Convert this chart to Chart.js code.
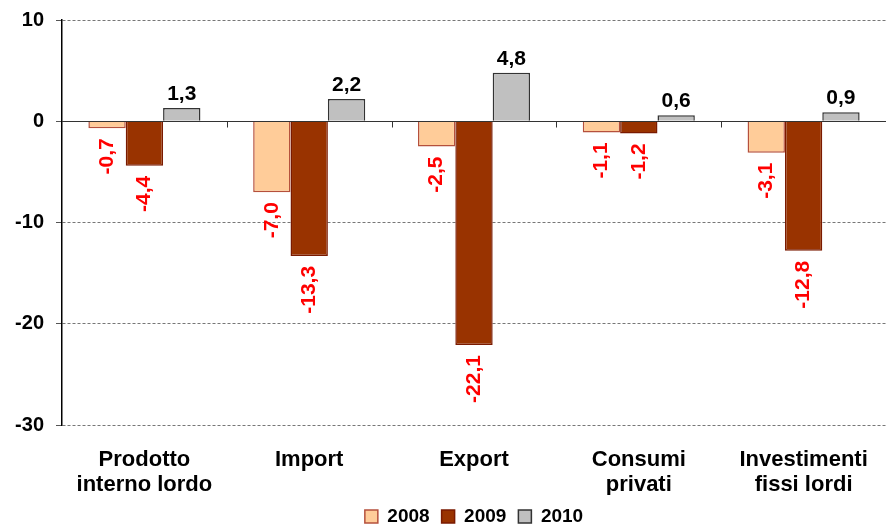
<!DOCTYPE html>
<html>
<head>
<meta charset="utf-8">
<script src="https://cdn.jsdelivr.net/npm/chart.js@4"></script>
<style>
  html, body { margin: 0; padding: 0; background: #fff; }
  #wrap { width: 886px; height: 524px; }
</style>
</head>
<body>
<div id="wrap"><canvas id="myChart" width="886" height="524"></canvas></div>
<script>
"use strict";

const categories = [
  ['Prodotto', 'interno lordo'],
  'Import',
  'Export',
  ['Consumi', 'privati'],
  ['Investimenti', 'fissi lordi']
];
const values2008 = [-0.7, -7.0, -2.5, -1.1, -3.1];
const values2009 = [-4.4, -13.3, -22.1, -1.2, -12.8];
const values2010 = [1.3, 2.2, 4.8, 0.6, 0.9];
const yTicks = [10, 0, -10, -20, -30];

const FONT = '"Liberation Sans", Arial, sans-serif';

const fmt = v => v.toFixed(1).replace('.', ',');

// labels: negatives red and rotated under the bar, positives black above
const valueLabels = {
  id: 'valueLabels',
  afterDatasetsDraw(chart) {
    const ctx = chart.ctx;
    ctx.save();
    ctx.font = 'bold 21px ' + FONT;
    chart.data.datasets.forEach((ds, i) => {
      chart.getDatasetMeta(i).data.forEach((bar, j) => {
        const v = ds.data[j];
        if (v < 0) {
          ctx.save();
          ctx.translate(bar.x, bar.y + 10);
          ctx.rotate(-Math.PI / 2);
          ctx.fillStyle = '#FF0000';
          ctx.textAlign = 'right';
          ctx.textBaseline = 'middle';
          ctx.fillText(fmt(v), 0, 0);
          ctx.restore();
        } else {
          ctx.fillStyle = '#000';
          ctx.textAlign = 'center';
          ctx.textBaseline = 'alphabetic';
          ctx.fillText(fmt(v), bar.x, bar.y - 8);
        }
      });
    });
    ctx.restore();
  }
};

// solid zero line with small ticks between categories
const zeroLine = {
  id: 'zeroLine',
  afterDatasetsDraw(chart) {
    const { ctx, chartArea, scales } = chart;
    const y0 = Math.round(scales.y.getPixelForValue(0)) + 0.5;
    ctx.save();
    ctx.strokeStyle = '#333';
    ctx.lineWidth = 1;
    ctx.beginPath();
    ctx.moveTo(chartArea.left, y0);
    ctx.lineTo(chartArea.right, y0);
    const n = chart.data.labels.length;
    const w = (chartArea.right - chartArea.left) / n;
    for (let k = 1; k < n; k++) {
      const x = Math.round(chartArea.left + k * w) + 0.5;
      ctx.moveTo(x, y0);
      ctx.lineTo(x, y0 + 6);
    }
    ctx.stroke();
    ctx.restore();
  }
};

// center the legend under the plot area instead of the whole canvas
const legendUnderPlot = {
  id: 'legendUnderPlot',
  afterLayout(chart) {
    const lg = chart.legend;
    if (!lg) return;
    lg.left = chart.chartArea.left;
    lg.right = chart.chartArea.right;
    lg.width = lg.right - lg.left;
  }
};

const ctx = document.getElementById('myChart').getContext('2d');
new Chart(ctx, {
  type: 'bar',
  data: {
    labels: categories,
    datasets: [{
      label: '2008',
      data: values2008,
      backgroundColor: '#FFCC99',
      borderColor: '#B5503C',
      borderWidth: 1.5
    }, {
      label: '2009',
      data: values2009,
      backgroundColor: '#993300',
      borderColor: '#7A1A00',
      borderWidth: 1.5
    }, {
      label: '2010',
      data: values2010,
      backgroundColor: '#C0C0C0',
      borderColor: '#333333',
      borderWidth: 1.5
    }]
  },
  options: {
    responsive: false,
    animation: false,
    layout: { padding: { top: 20, right: 0, left: 0, bottom: -12 } },
    datasets: { bar: { categoryPercentage: 0.68, barPercentage: 1 } },
    plugins: {
      legend: {
        position: 'bottom',
        labels: {
          boxWidth: 13,
          boxHeight: 13,
          padding: 12,
          color: '#000',
          font: { family: FONT, size: 19, weight: 'bold' }
        }
      },
      tooltip: { enabled: false }
    },
    scales: {
      x: {
        grid: { display: false },
        border: { display: false },
        afterFit: scale => { scale.height = 70; },
        ticks: {
          color: '#000',
          padding: 14,
          maxRotation: 0,
          font: { family: FONT, size: 22, weight: 'bold', lineHeight: 1.15 }
        }
      },
      y: {
        min: -30,
        max: 10,
        afterFit: scale => {
          scale.width = 62;
          scale.paddingTop = 0;
          scale.paddingBottom = 0;
        },
        afterBuildTicks: scale => { scale.ticks = yTicks.map(v => ({ value: v })); },
        grid: {
          color: ctx => ctx.tick && ctx.tick.value === 0 ? 'rgba(0,0,0,0)' : '#777',
          tickColor: '#555',
          tickLength: 6
        },
        border: { display: true, color: '#000', width: 1.5, dash: [3, 2] },
        ticks: {
          color: '#000',
          padding: 12,
          font: { family: FONT, size: 20, weight: 'bold' }
        }
      }
    }
  },
  plugins: [valueLabels, zeroLine, legendUnderPlot]
});
</script>
</body>
</html>
